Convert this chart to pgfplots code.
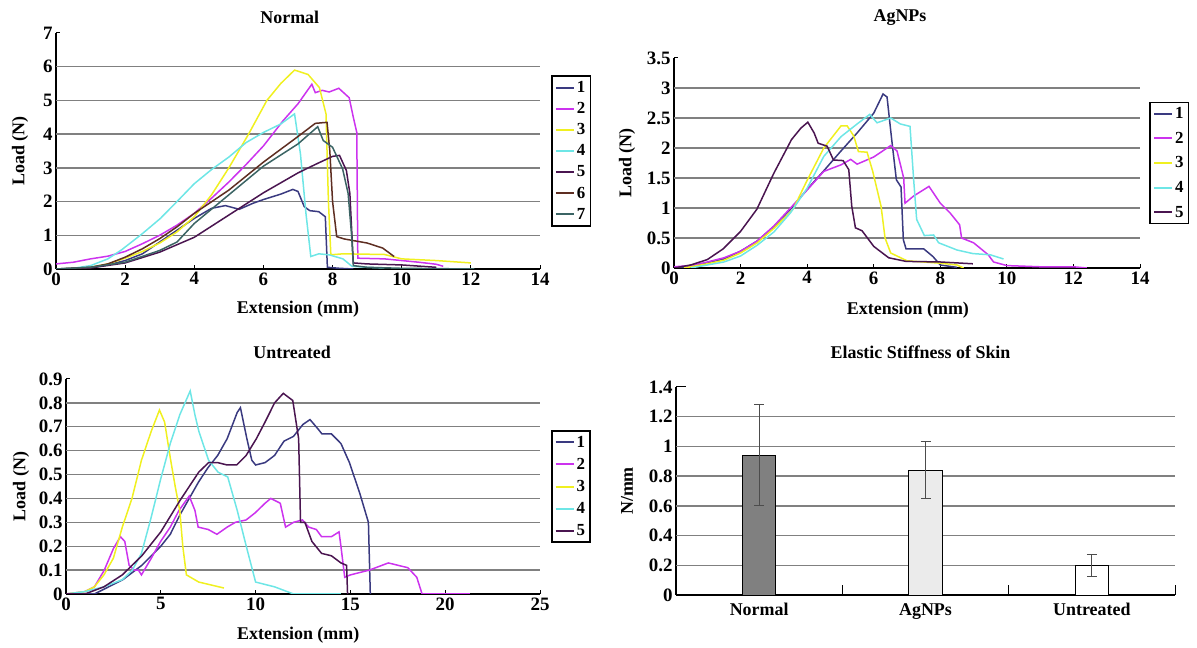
\documentclass[border=0pt]{standalone}
\usepackage{fontspec}
\setmainfont{Liberation Serif}
\usepackage{pgfplots}
\pgfplotsset{compat=1.18}
\usepackage{xcolor}

\definecolor{sone}{HTML}{3A3A80}
\definecolor{stwo}{HTML}{CC33EE}
\definecolor{sthree}{HTML}{F0F020}
\definecolor{sfour}{HTML}{6EE6E6}
\definecolor{sfive}{HTML}{4A1550}
\definecolor{ssix}{HTML}{5E2E22}
\definecolor{sseven}{HTML}{3B6464}

\pgfplotsset{
  panel/.style={
    scale only axis, anchor=south west,
    axis x line*=bottom, axis y line*=left,
    axis line style={black, line width=1.5bp},
    tick align=inside, major tick length=4bp,
    tick style={black, line width=1bp},
    tick label style={font=\bfseries\fontsize{19}{19}\selectfont},
    label style={font=\bfseries\fontsize{18}{18}\selectfont},
    title style={font=\bfseries\fontsize{18}{18}\selectfont, anchor=center},
    /pgf/number format/assume math mode=true,
    extra y tick labels={},
    extra y tick style={grid=major, major tick length=0pt},
    grid style={black!50, line width=1.4bp},
    xlabel style={anchor=center},
    ylabel style={anchor=center},
    legend style={draw=black, line width=1.6bp, anchor=west,
      font=\bfseries\fontsize{17}{17}\selectfont,
      inner xsep=3bp, inner ysep=3bp, row sep=5bp,
      cells={anchor=west}},
    legend image code/.code={\draw[#1, line width=2bp] (0bp,0bp) -- (18bp,0bp);},
    every axis plot/.append style={line width=1.5bp, mark=none},
  }
}

\begin{document}
\begin{tikzpicture}[x=1bp,y=1bp]
\path[use as bounding box] (0,0) rectangle (1197,648);

% ---------- Normal ----------
\begin{axis}[panel, at={(56bp,379bp)}, width=484bp, height=236bp,
  xmin=0, xmax=14, ymin=0, ymax=7,
  xtick={0,2,...,14}, ytick={0,1,...,7},
  extra y ticks={1,2,3,4,5,6},
  title={Normal}, title style={at={(axis description cs:0.483,1)}, yshift=10bp},
  xlabel={Extension (mm)}, xlabel style={at={(axis description cs:0.5,0)}, yshift=-40bp},
  ylabel={Load (N)}, ylabel style={at={(axis description cs:-0.074,0.5)}},
  legend style={at={(1.023,0.5)}, row sep=4.5bp},
]
\addplot[sone] coordinates {(0,0) (0.5,0.01) (1,0.05) (1.5,0.12) (2,0.25) (2.5,0.45) (3,0.8) (3.5,1.15) (4,1.5) (4.5,1.8) (4.9,1.88) (5.3,1.77) (5.7,1.95) (6,2.06) (6.5,2.22) (6.85,2.36) (7.0,2.3) (7.18,1.85) (7.34,1.73) (7.6,1.7) (7.79,1.55) (7.85,0.05) (8.2,0.02) (8.6,0.0)};
\addlegendentry{1}
\addplot[stwo] coordinates {(0,0.15) (0.5,0.2) (1,0.3) (1.5,0.38) (2,0.52) (2.5,0.75) (3,1.0) (3.5,1.3) (4,1.65) (4.5,2.1) (5,2.58) (5.5,3.1) (6,3.65) (6.57,4.4) (7,4.9) (7.4,5.48) (7.5,5.23) (7.7,5.3) (7.9,5.25) (8.18,5.36) (8.48,5.08) (8.6,4.5) (8.7,4.05) (8.73,0.32) (9.5,0.3) (10,0.25) (10.5,0.2) (11,0.14) (11.2,0.08)};
\addlegendentry{2}
\addplot[sthree] coordinates {(0.3,0) (1,0.05) (1.5,0.15) (2,0.32) (2.5,0.52) (3,0.77) (3.5,1.1) (4,1.55) (4.5,2.2) (5,3.0) (5.57,4.0) (6.1,5.0) (6.5,5.5) (6.9,5.9) (7.29,5.77) (7.62,5.38) (7.81,4.6) (7.88,2.0) (7.95,0.42) (8.3,0.45) (9.5,0.43) (10,0.3) (11,0.25) (12,0.18)};
\addlegendentry{3}
\addplot[sfour] coordinates {(0,0) (0.5,0.02) (1,0.1) (1.5,0.3) (1.9,0.57) (2.5,1.05) (3.02,1.5) (3.5,2.0) (4.0,2.53) (4.5,2.95) (5.0,3.32) (5.5,3.75) (6.0,4.05) (6.5,4.3) (6.9,4.6) (7.07,3.42) (7.23,1.65) (7.37,0.37) (7.6,0.45) (7.9,0.42) (8.3,0.3) (8.56,0.08) (9,0.05) (9.5,0.03)};
\addlegendentry{4}
\addplot[sfive] coordinates {(0,0) (1,0.03) (2,0.18) (3,0.5) (4,0.94) (5,1.6) (6,2.26) (7,2.85) (7.5,3.1) (8.0,3.34) (8.2,3.37) (8.4,2.92) (8.5,2.24) (8.6,0.18) (9,0.15) (10,0.12) (11,0.05)};
\addlegendentry{5}
\addplot[ssix] coordinates {(0,0) (1,0.05) (1.5,0.15) (2,0.35) (2.5,0.6) (3,0.9) (3.5,1.25) (4,1.65) (5,2.34) (6,3.17) (7,3.93) (7.5,4.32) (7.84,4.35) (7.92,3.5) (8.0,2.0) (8.12,0.96) (8.34,0.89) (9.0,0.77) (9.45,0.62) (9.78,0.37)};
\addlegendentry{6}
\addplot[sseven] coordinates {(0,0) (1,0.05) (2,0.2) (3,0.55) (3.5,0.8) (4,1.35) (5,2.2) (6,3.05) (7,3.71) (7.57,4.22) (7.73,3.81) (8.0,3.61) (8.29,2.97) (8.45,2.24) (8.55,1.0) (8.6,0.1) (9,0.05) (10,0.02) (12.1,0.0)};
\addlegendentry{7}
\end{axis}

% ---------- AgNPs ----------
\begin{axis}[panel, at={(674bp,380bp)}, width=466bp, height=210bp,
  xmin=0, xmax=14, ymin=0, ymax=3.5,
  xtick={0,2,...,14}, ytick={0,0.5,1,1.5,2,2.5,3,3.5},
  extra y ticks={0.5,1,1.5,2,2.5,3},
  title={AgNPs}, title style={at={(axis description cs:0.485,1)}, yshift=34bp},
  xlabel={Extension (mm)}, xlabel style={at={(axis description cs:0.502,0)}, yshift=-42bp},
  ylabel={Load (N)}, ylabel style={at={(axis description cs:-0.101,0.5)}},
  legend style={at={(1.02,0.5)}, row sep=8bp},
]
\addplot[sone] coordinates {(0,0) (0.5,0.02) (1,0.08) (1.5,0.15) (2,0.28) (2.5,0.45) (3,0.69) (3.5,0.98) (4,1.31) (4.5,1.62) (5,1.94) (5.5,2.25) (6,2.58) (6.28,2.9) (6.4,2.85) (6.53,2.19) (6.68,1.47) (6.82,1.35) (6.89,0.47) (6.97,0.32) (7.5,0.32) (7.78,0.19) (8.0,0.05) (8.5,0.01)};
\addlegendentry{1}
\addplot[stwo] coordinates {(0,0.02) (0.5,0.04) (1,0.1) (1.5,0.17) (2,0.28) (2.5,0.45) (3,0.7) (3.5,1.0) (4,1.3) (4.5,1.61) (5.02,1.72) (5.31,1.81) (5.5,1.73) (6,1.85) (6.51,2.04) (6.7,1.95) (6.9,1.5) (6.94,1.08) (7.2,1.2) (7.66,1.36) (8.0,1.08) (8.29,0.92) (8.58,0.72) (8.64,0.5) (9.0,0.42) (9.44,0.22) (9.6,0.1) (10,0.04) (11,0.02) (12,0.02) (12.4,0.0)};
\addlegendentry{2}
\addplot[sthree] coordinates {(0.3,0) (1,0.07) (1.5,0.13) (2,0.25) (2.5,0.42) (3,0.66) (3.58,0.98) (3.98,1.44) (4.5,2.0) (5.02,2.37) (5.2,2.37) (5.4,2.2) (5.54,1.94) (5.8,1.93) (5.97,1.61) (6.22,1.03) (6.34,0.5) (6.51,0.25) (7,0.12) (8,0.08) (8.5,0.05) (8.7,0.0)};
\addlegendentry{3}
\addplot[sfour] coordinates {(0.5,0) (1,0.05) (1.5,0.1) (2,0.2) (2.5,0.38) (3,0.6) (3.5,0.92) (4,1.33) (4.5,1.86) (5.02,2.19) (5.5,2.4) (5.88,2.56) (6.1,2.42) (6.51,2.5) (6.8,2.4) (7.09,2.36) (7.2,1.47) (7.29,0.81) (7.52,0.54) (7.8,0.55) (7.95,0.42) (8.5,0.3) (8.98,0.24) (9.5,0.22) (9.9,0.15)};
\addlegendentry{4}
\addplot[sfive] coordinates {(0,0) (0.5,0.05) (1,0.14) (1.48,0.32) (2,0.61) (2.49,0.98) (3,1.58) (3.53,2.14) (3.81,2.33) (4.02,2.43) (4.21,2.25) (4.33,2.08) (4.6,2.03) (4.79,1.8) (5.08,1.79) (5.25,1.64) (5.34,1.03) (5.45,0.67) (5.65,0.62) (6.0,0.36) (6.45,0.17) (6.97,0.11) (8,0.1) (8.98,0.07)};
\addlegendentry{5}
\end{axis}

% ---------- Untreated ----------
\begin{axis}[panel, at={(66bp,54bp)}, width=474bp, height=215bp,
  xmin=0, xmax=25, ymin=0, ymax=0.9,
  xtick={0,5,...,25}, ytick={0,0.1,0.2,0.3,0.4,0.5,0.6,0.7,0.8,0.9},
  extra y ticks={0.1,0.2,0.3,0.4,0.5,0.6,0.7,0.8},
  title={Untreated}, title style={at={(axis description cs:0.477,1)}, yshift=21bp},
  xlabel={Extension (mm)}, xlabel style={at={(axis description cs:0.49,0)}, yshift=-41bp},
  ylabel={Load (N)}, ylabel style={at={(axis description cs:-0.095,0.5)}},
  legend style={at={(1.023,0.5)}, row sep=5.5bp},
]
\addplot[sone] coordinates {(0,0) (1.5,0) (2,0.02) (3,0.06) (4,0.12) (5,0.2) (5.5,0.25) (6,0.33) (6.5,0.4) (7,0.47) (7.5,0.53) (8,0.58) (8.5,0.65) (9.03,0.76) (9.2,0.78) (9.54,0.65) (9.8,0.56) (10,0.54) (10.5,0.55) (11,0.58) (11.5,0.64) (12,0.66) (12.5,0.71) (12.87,0.73) (13.3,0.69) (13.5,0.67) (14,0.67) (14.5,0.63) (14.95,0.55) (15.5,0.42) (15.95,0.3) (16.05,0.0)};
\addlegendentry{1}
\addplot[stwo] coordinates {(0,0) (1,0.01) (1.5,0.03) (2.02,0.1) (2.5,0.19) (2.87,0.24) (3.1,0.22) (3.33,0.12) (3.6,0.1) (3.82,0.1) (3.98,0.08) (4.5,0.15) (4.99,0.22) (5.5,0.28) (5.96,0.35) (6.5,0.41) (6.8,0.35) (6.97,0.28) (7.5,0.27) (7.96,0.25) (8.5,0.28) (8.93,0.3) (9.5,0.31) (9.98,0.34) (10.5,0.38) (10.8,0.4) (11.3,0.38) (11.58,0.28) (12,0.3) (12.47,0.31) (12.8,0.28) (13.2,0.27) (13.48,0.24) (14,0.24) (14.4,0.26) (14.5,0.2) (14.7,0.07) (15,0.08) (16,0.1) (17,0.13) (18.03,0.11) (18.5,0.07) (18.78,0.0) (21.3,0.0)};
\addlegendentry{2}
\addplot[sthree] coordinates {(0,0) (1,0.01) (1.5,0.03) (2.0,0.08) (2.5,0.15) (2.97,0.28) (3.48,0.4) (3.98,0.56) (4.49,0.68) (4.93,0.77) (5.2,0.72) (5.5,0.57) (5.76,0.45) (6.0,0.35) (6.16,0.2) (6.35,0.08) (7,0.05) (8.33,0.025)};
\addlegendentry{3}
\addplot[sfour] coordinates {(0,0) (1,0.01) (2,0.03) (2.97,0.06) (3.5,0.1) (3.98,0.17) (4.49,0.32) (4.99,0.48) (5.5,0.63) (6.0,0.75) (6.55,0.85) (6.8,0.75) (7.01,0.68) (7.52,0.56) (8.02,0.51) (8.53,0.49) (9.03,0.35) (9.54,0.19) (10.0,0.05) (10.5,0.04) (11,0.03) (12,0.0) (14.5,0.0)};
\addlegendentry{4}
\addplot[sfive] coordinates {(0,0) (1,0.0) (2,0.03) (2.97,0.08) (4,0.16) (5,0.26) (6,0.39) (7,0.51) (7.52,0.55) (8,0.55) (8.5,0.54) (9,0.54) (9.5,0.58) (10.04,0.65) (10.5,0.72) (11.0,0.8) (11.46,0.84) (11.96,0.81) (12.27,0.65) (12.37,0.3) (12.6,0.3) (12.97,0.22) (13.48,0.17) (14,0.16) (14.5,0.13) (14.8,0.12) (14.85,0.0)};
\addlegendentry{5}
\end{axis}

% ---------- Elastic stiffness ----------
\begin{axis}[panel, at={(676bp,53bp)}, width=499bp, height=208bp,
  xmin=-0.5, xmax=2.5, ymin=0, ymax=1.4,
  ytick={0,0.2,0.4,0.6,0.8,1,1.2,1.4},
  extra y ticks={0.2,0.4,0.6,0.8,1,1.2},
  xtick={0.5,1.5,2.5}, xticklabels={}, major tick length=10bp,
  extra x ticks={0,1,2}, extra x tick labels={Normal,AgNPs,Untreated},
  extra x tick style={major tick length=0pt,
    tick label style={yshift=-5bp, font=\bfseries\fontsize{18}{18}\selectfont}},
  title={Elastic Stiffness of Skin}, title style={at={(axis description cs:0.49,1)}, yshift=29bp},
  ylabel={N/mm}, ylabel style={at={(axis description cs:-0.098,0.5)}},
]
\addplot[ybar, bar width=0.2, bar shift=0pt, fill=black!50, draw=black, line width=0.8bp,
  error bars/.cd, y dir=both, y explicit,
  error bar style={black!70, line width=1bp},
  error mark options={rotate=90, mark size=5bp, line width=1bp, black!70}]
  coordinates {(0,0.94) +- (0,0.34)};
\addplot[ybar, bar width=0.2, bar shift=0pt, fill=black!8, draw=black, line width=0.8bp,
  error bars/.cd, y dir=both, y explicit,
  error bar style={black!70, line width=1bp},
  error mark options={rotate=90, mark size=5bp, line width=1bp, black!70}]
  coordinates {(1,0.84) +- (0,0.19)};
\addplot[ybar, bar width=0.2, bar shift=0pt, fill=white, draw=black, line width=0.8bp,
  error bars/.cd, y dir=both, y explicit,
  error bar style={black!70, line width=1bp},
  error mark options={rotate=90, mark size=5bp, line width=1bp, black!70}]
  coordinates {(2,0.20) +- (0,0.075)};
\end{axis}
\end{tikzpicture}
\end{document}
